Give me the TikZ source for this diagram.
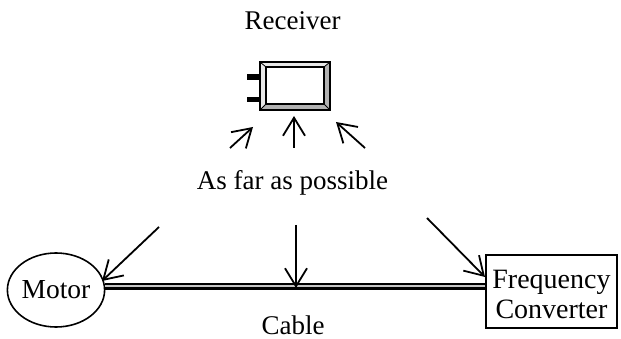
\documentclass[tikz,border=0pt]{standalone}
\usepackage{fontspec}
\setmainfont{Liberation Serif}
\usetikzlibrary{arrows.meta,shapes.geometric}
\begin{document}
\begin{tikzpicture}[x=1pt,y=-1pt,
  lbl/.style={font=\fontsize{27}{30}\selectfont, inner sep=0pt},
  arr/.style={line width=1.8pt, -{Straight Barb[length=18pt,width=22pt,line width=1.8pt]}},
  lite/.style={fill=gray!18},
  dark/.style={fill=gray!60},
]
\useasboundingbox (0,0) rectangle (621,339);
% labels
\node[lbl, anchor=base] (rlabel) at (292.5,30) {Receiver};
\node[lbl, anchor=base] (far) at (292.5,190) {As far as possible};
\node[lbl, anchor=base] (cablelbl) at (293,334) {Cable};
% receiver
\node[rectangle, minimum width=70pt, minimum height=48pt, inner sep=0pt, outer sep=0pt] (rx) at (295,86) {};
\begin{scope}[shift={(rx.center)}]
  \fill[lite] (-35,-24) -- (35,-24) -- (29,-19) -- (-29,-19) -- cycle;
  \fill[lite] (-35,-24) -- (-29,-19) -- (-29,18) -- (-35,24) -- cycle;
  \fill[dark] (35,-24) -- (35,24) -- (29,18) -- (29,-19) -- cycle;
  \fill[dark] (-35,24) -- (35,24) -- (29,18) -- (-29,18) -- cycle;
  \draw[line width=0.8pt] (-35,-24) -- (-29,-19) (35,-24) -- (29,-19) (35,24) -- (29,18) (-35,24) -- (-29,18);
  \draw[line width=1.5pt] (-29,-19) rectangle (29,18);
  \fill (-48,-12) rectangle (-35,-6);
  \fill (-48,11) rectangle (-35,16.5);
\end{scope}
\draw[line width=2.8pt] (rx.north west) rectangle (rx.south east);
% motor and converter
\node[ellipse, draw, line width=1.6pt, minimum width=88pt, minimum height=74pt, inner sep=0pt, font=\fontsize{27.5}{30}\selectfont] (motor) at (56,290) {Motor};
\node[rectangle, draw, line width=1.6pt, minimum width=131pt, minimum height=73pt, inner sep=0pt, align=center, font=\fontsize{28}{29.5}\selectfont] (conv) at (551.5,291.5) {\rule{0pt}{24.5pt}Frequency\\Converter};
% cable
\draw[line width=2.8pt] ([yshift=1.8pt]motor.east) -- ([yshift=1.8pt]motor.east -| conv.west);
\draw[line width=1.6pt, gray!45] ([yshift=4.3pt]motor.east) -- ([yshift=4.3pt]motor.east -| conv.west);
\draw[line width=1.8pt] ([yshift=6.4pt]motor.east) -- ([yshift=6.4pt]motor.east -| conv.west);
% arrows to receiver
\coordinate (ua1) at (230,148); \coordinate (ub1) at (253,127);
\coordinate (ua2) at (294,148); \coordinate (ub2) at (294,116);
\coordinate (ua3) at (365,148); \coordinate (ub3) at (336,122);
\draw[arr] (ua1) -- (ub1);
\draw[arr] (ua2) -- (ub2);
\draw[arr] (ua3) -- (ub3);
% arrows down
\coordinate (la1) at (159,227); \coordinate (lb1) at (102,281);
\coordinate (la2) at (296,225); \coordinate (lb2) at (296,288);
\coordinate (la3) at (427,218); \coordinate (lb3) at (485,277);
\draw[arr] (la1) -- (lb1);
\draw[arr] (la2) -- (lb2);
\draw[arr] (la3) -- (lb3);
\end{tikzpicture}
\end{document}
